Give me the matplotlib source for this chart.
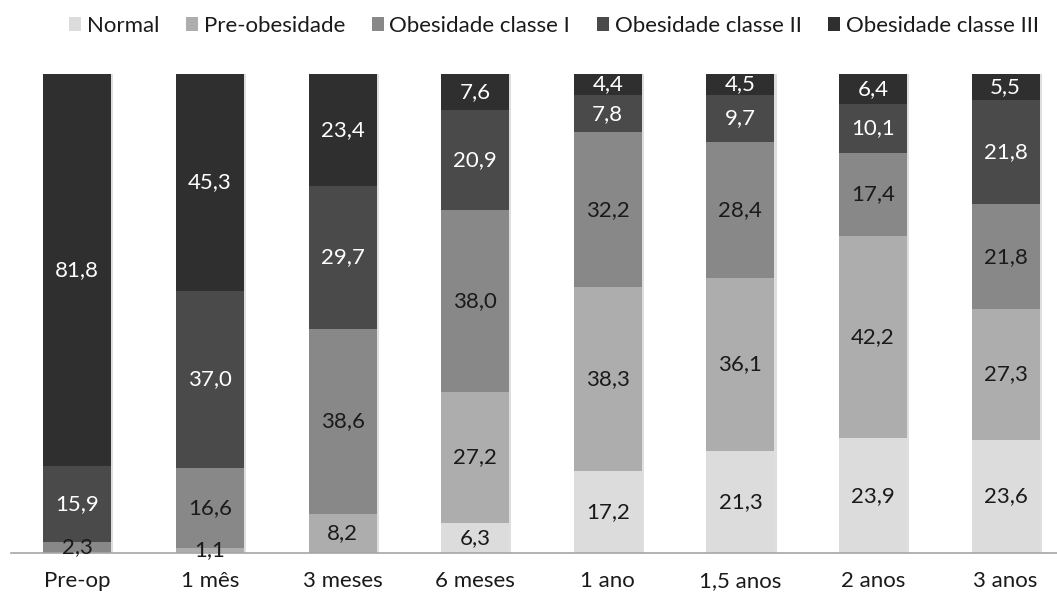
import matplotlib
matplotlib.use("Agg")
import matplotlib.pyplot as plt
from matplotlib.patches import Patch
import matplotlib.patheffects as pe
import numpy as np

categories = ["Pre-op", "1 mês", "3 meses", "6 meses", "1 ano", "1,5 anos", "2 anos", "3 anos"]
series_names = ["Normal", "Pre-obesidade", "Obesidade classe I", "Obesidade classe II", "Obesidade classe III"]
normal = [0.0, 0.0, 0.0, 6.3, 17.2, 21.3, 23.9, 23.6]
pre_obesidade = [0.0, 1.1, 8.2, 27.2, 38.3, 36.1, 42.2, 27.3]
obesidade_1 = [2.3, 16.6, 38.6, 38.0, 32.2, 28.4, 17.4, 21.8]
obesidade_2 = [15.9, 37.0, 29.7, 20.9, 7.8, 9.7, 10.1, 21.8]
obesidade_3 = [81.8, 45.3, 23.4, 7.6, 4.4, 4.5, 6.4, 5.5]

series = [normal, pre_obesidade, obesidade_1, obesidade_2, obesidade_3]
colors = ["#dcdcdc", "#adadad", "#888888", "#4a4a4a", "#2f2f2f"]
text_colors = ["#1a1a1a", "#1a1a1a", "#1a1a1a", "white", "white"]

plt.rcParams["font.family"] = ["Lato", "DejaVu Sans"]
FS = 16

fig = plt.figure(figsize=(10.57, 5.96), dpi=100)
ax = fig.add_axes([11 / 1057, 43 / 596, 1061 / 1057, 479.5 / 596])

x = np.arange(len(categories))
bottom = np.zeros(len(categories))
shadow = [pe.SimplePatchShadow(offset=(1.5, 0), shadow_rgbFace="#c8c8c8", alpha=0.6), pe.Normal()]
for vals, col, tcol in zip(series, colors, text_colors):
    vals = np.array(vals)
    bars = ax.bar(x, vals, width=0.513, bottom=bottom, color=col, edgecolor="none", zorder=2)
    for b in bars:
        b.set_path_effects(shadow)
    for xi, v, b0 in zip(x, vals, bottom):
        if v > 0:
            ax.text(xi, b0 + v / 2, f"{v:.1f}".replace(".", ","), ha="center", va="center",
                    color=tcol, fontsize=FS, zorder=4)
    bottom += vals

ax.set_xlim(-0.5, 7.5)
ax.set_ylim(0, 100)
ax.set_xticks(x)
ax.set_xticklabels(categories, fontsize=FS, color="#1a1a1a")
ax.tick_params(axis="x", length=0, pad=13)
ax.set_yticks([])
for s in ["left", "right", "top"]:
    ax.spines[s].set_visible(False)
ax.spines["bottom"].set_color("#a6a6a6")
ax.spines["bottom"].set_linewidth(1.2)
ax.spines["bottom"].set_zorder(3)

handles = [Patch(facecolor=c, edgecolor="none") for c in colors]
fig.legend(handles, series_names, loc="center", bbox_to_anchor=(554 / 1057, 1 - 26 / 596), ncol=5,
           frameon=False, fontsize=FS, handlelength=0.55, handleheight=0.55,
           handletextpad=0.25, columnspacing=1.2, labelcolor="#1a1a1a")

fig.savefig("out.png", dpi=100)
